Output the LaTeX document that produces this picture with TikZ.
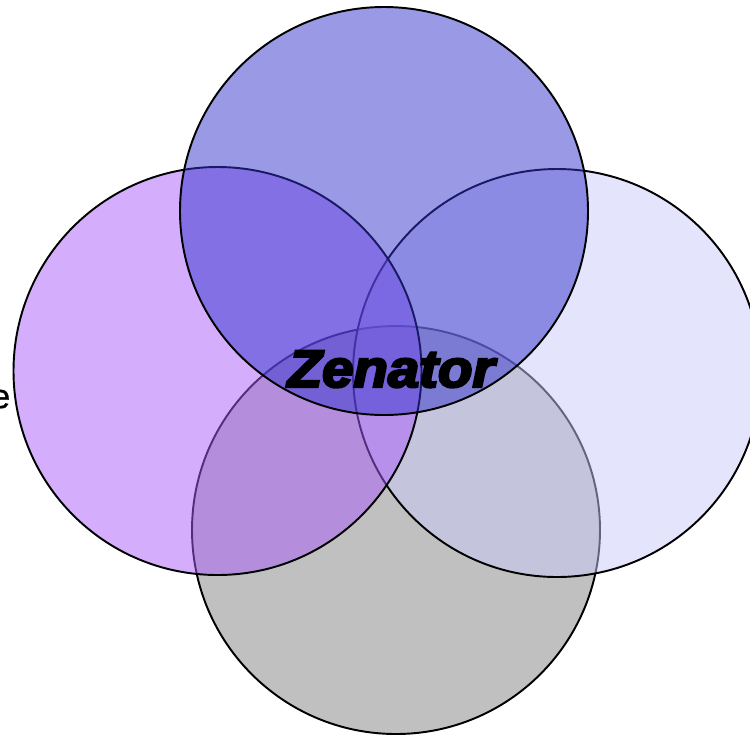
\documentclass[tikz,border=0pt]{standalone}
\usepackage{fontspec}
\setmainfont{Liberation Sans}
\newfontfamily\zenfont[FakeBold=4.5]{Liberation Sans}
\newfontfamily\efont[FakeBold=1]{Liberation Sans}
\definecolor{topc}{RGB}{51,51,205}
\definecolor{leftc}{RGB}{169,93,249}
\definecolor{rightc}{RGB}{201,201,249}
\definecolor{botc}{RGB}{192,192,192}
\begin{document}
\begin{tikzpicture}[x=0.02cm,y=-0.02cm,
  ring/.style={draw=black,line width=1.1pt},
  seethru/.style={ring,fill opacity=0.5}]
\useasboundingbox (0,0) rectangle (750,735);
\node[inner sep=0pt,anchor=base east,font=\efont\fontsize{19.3pt}{22pt}\selectfont] (lbl) at (10.5,408) {e};
\draw[ring,fill=botc] (396,530) circle[radius=204] coordinate (bot);
\draw[seethru,fill=rightc] (557,373) circle[radius=204] coordinate (rgt);
\draw[seethru,fill=leftc] (217.5,371) circle[radius=204] coordinate (lft);
\draw[seethru,fill=topc] (384,211) circle[radius=204] coordinate (tp);
\node[inner sep=0pt,anchor=base,xscale=1.07] (zen) at (391,387) {\zenfont\fontsize{30pt}{34pt}\selectfont\bfseries\itshape Zenator};
\end{tikzpicture}
\end{document}
